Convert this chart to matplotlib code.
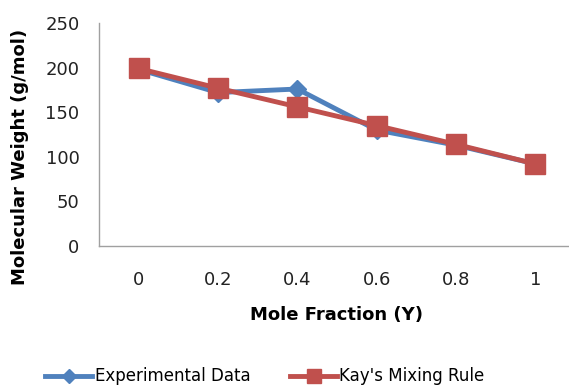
import matplotlib
matplotlib.use('Agg')
import matplotlib.pyplot as plt

# categories on the x axis
mole_fraction = ['0', '0.2', '0.4', '0.6', '0.8', '1']
# molecular weight (g/mol)
experimental = [198, 172, 176, 130, 113, 92]
kays_rule = [199, 177, 156, 135, 114, 92]

blue = '#4F81BD'
red = '#C0504D'

fig = plt.figure(figsize=(5.69, 3.88), dpi=100)
ax = fig.add_axes([99/569, 1-246/388, 476/569, 223/388])

x = list(range(len(mole_fraction)))
ax.plot(x, experimental, color=blue, lw=3.5, marker='D', ms=9,
        label='Experimental Data')
ax.plot(x, kays_rule, color=red, lw=3.5, marker='s', ms=14,
        label="Kay's Mixing Rule")

ax.set_xlim(-0.5, len(x) - 0.5)
ax.set_ylim(0, 250)
ax.set_yticks([0, 50, 100, 150, 200, 250])
ax.set_xticks(x)
ax.set_xticklabels(mole_fraction)
ax.tick_params(length=0, labelsize=13, colors='#222222')
ax.tick_params(axis='x', pad=18)
ax.tick_params(axis='y', pad=14)

for s in ['top', 'right']:
    ax.spines[s].set_visible(False)
for s in ['left', 'bottom']:
    ax.spines[s].set_color('#A0A0A0')
    ax.spines[s].set_linewidth(1)

ax.set_xlabel('Mole Fraction (Y)', fontsize=13, fontweight='bold', labelpad=12)
ax.set_ylabel('Molecular Weight (g/mol)', fontsize=13, fontweight='bold')
ax.yaxis.set_label_coords(-0.148, 0.40)

fig.legend(loc='center', bbox_to_anchor=(265/569, 0.03), ncol=2, frameon=False,
           fontsize=12, handlelength=2.8, columnspacing=2.4, handletextpad=0.15,
           markerscale=0.75)

fig.savefig('out.png', dpi=100)
